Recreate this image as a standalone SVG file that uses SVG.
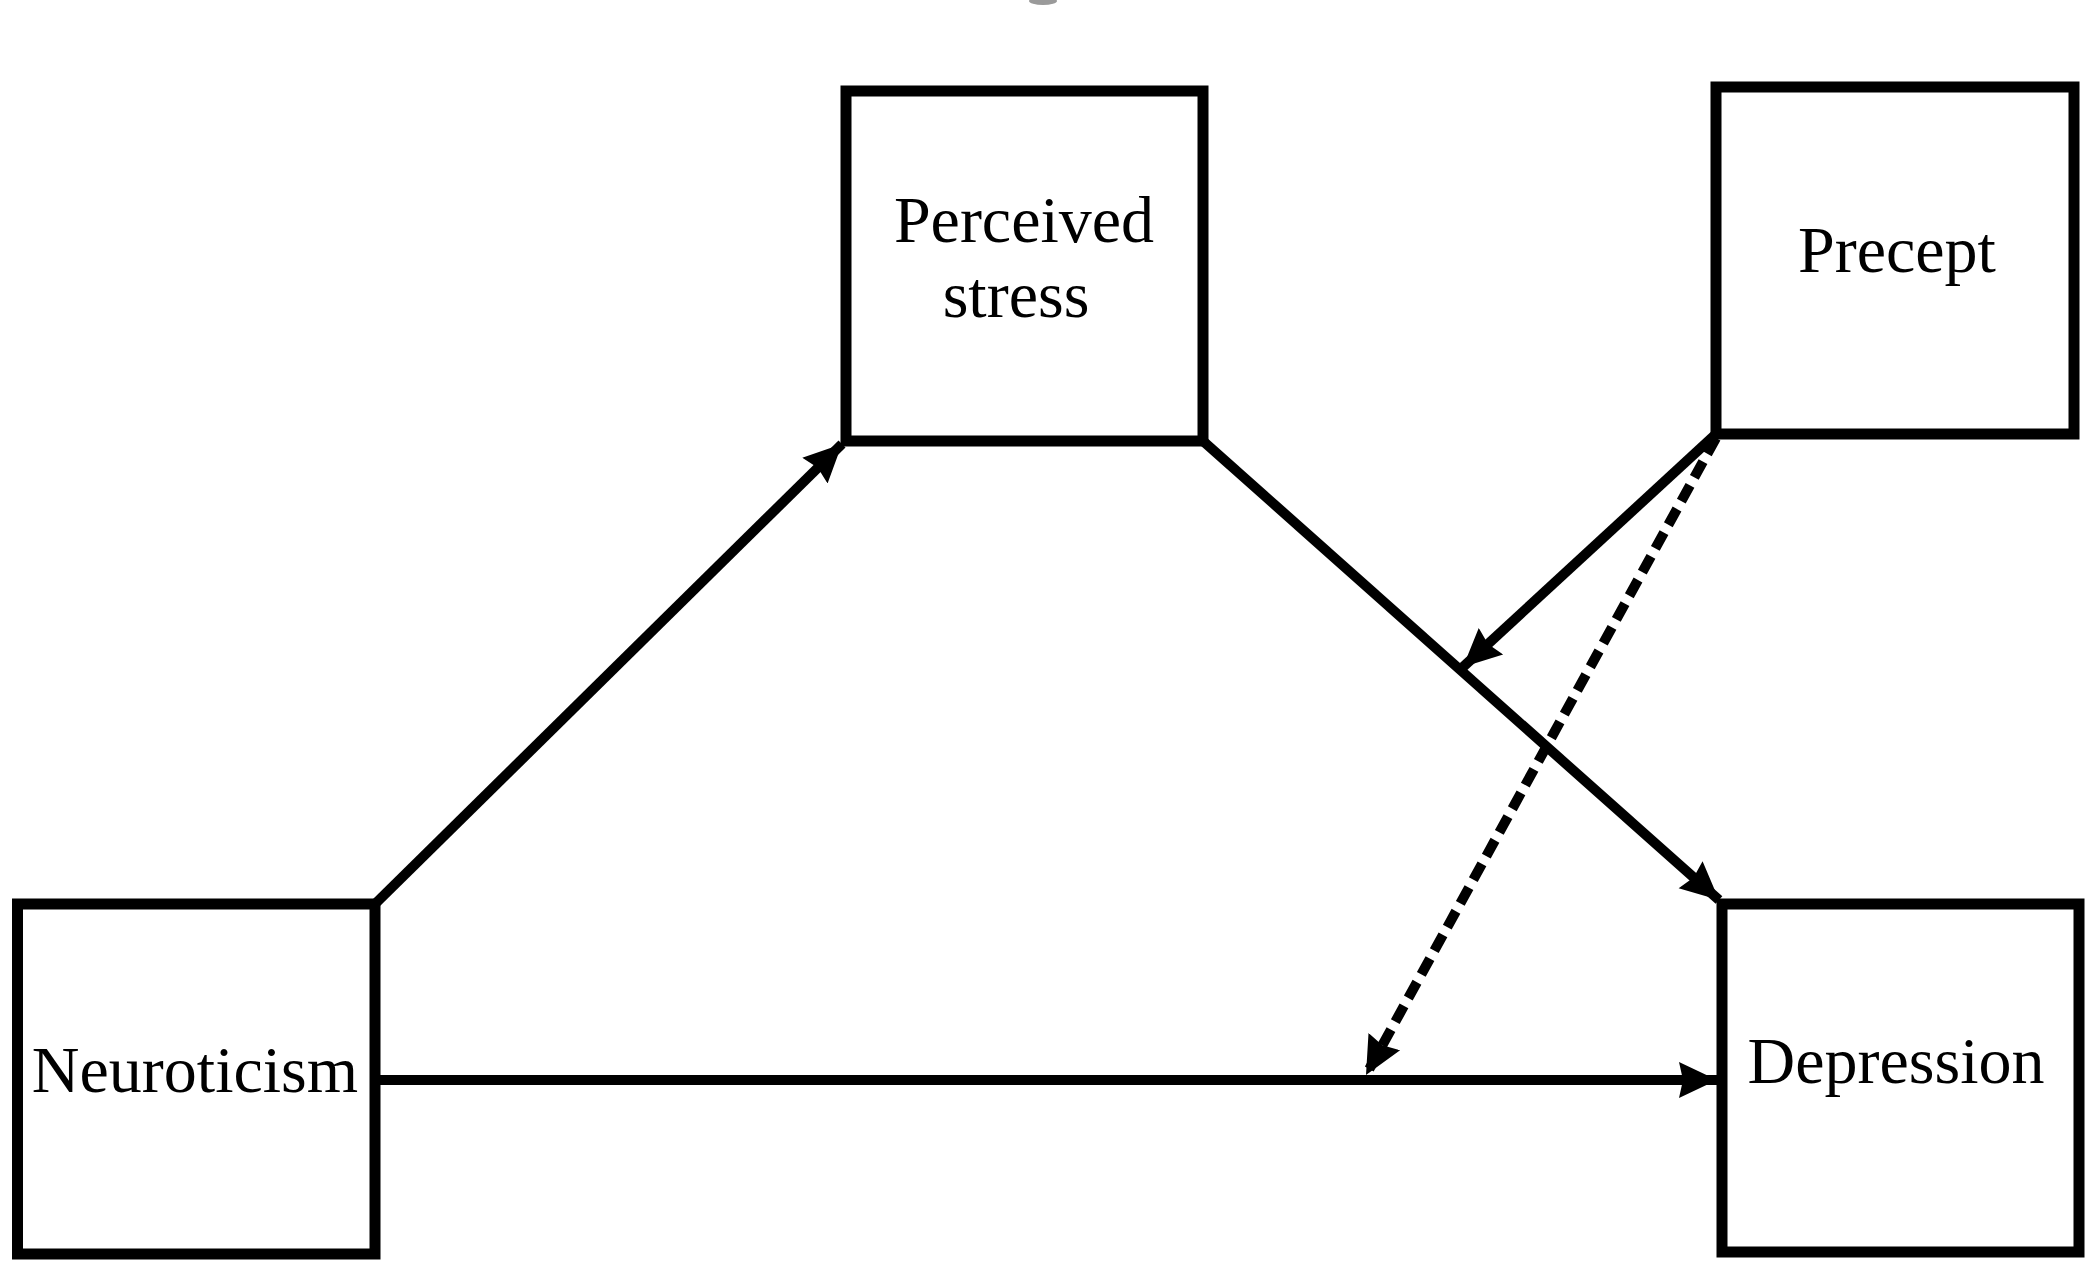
<svg xmlns="http://www.w3.org/2000/svg" width="2100" height="1273" viewBox="0 0 2100 1273">
  <style>
    .box { fill: #ffffff; stroke: #000000; stroke-width: 11; }
    .lbl { font-family: "Liberation Serif", "Times New Roman", serif; font-size: 66px; fill: #000000; text-anchor: middle; }
    .conn { stroke: #000000; stroke-width: 10; fill: none; }
    .dash { stroke-dasharray: 18 9; }
  </style>
  <defs>
    <marker id="arrow" markerUnits="userSpaceOnUse" markerWidth="42" markerHeight="40" refX="38" refY="20" orient="auto">
      <path d="M0,2 L38,20 L0,38 L4,20 z" fill="#000000"/>
    </marker>
  </defs>
  <rect x="0" y="0" width="2100" height="1273" fill="#ffffff"/>
  <ellipse cx="1043" cy="1" rx="14" ry="4" fill="#9a9a9a"/>

  <g id="connectors">
    <line class="conn" x1="375" y1="904" x2="842" y2="444" marker-end="url(#arrow)"/>
    <line class="conn" x1="1203" y1="441" x2="1719" y2="900" marker-end="url(#arrow)"/>
    <line class="conn" x1="380" y1="1080" x2="1717" y2="1080" marker-end="url(#arrow)"/>
    <line class="conn" x1="1716" y1="434" x2="1463" y2="667" marker-end="url(#arrow)"/>
    <line class="conn dash" x1="1716" y1="438" x2="1366" y2="1075" marker-end="url(#arrow)"/>
  </g>

  <g id="node-perceived-stress">
    <rect class="box" x="846" y="91" width="357" height="350"/>
    <text class="lbl" x="1024" y="242">Perceived</text>
    <text class="lbl" x="1016" y="317">stress</text>
  </g>
  <g id="node-precept">
    <rect class="box" x="1716" y="87" width="358" height="347"/>
    <text class="lbl" x="1897" y="272">Precept</text>
  </g>
  <g id="node-neuroticism">
    <rect class="box" x="17.5" y="904" width="357.5" height="350"/>
    <text class="lbl" x="195" y="1092">Neuroticism</text>
  </g>
  <g id="node-depression">
    <rect class="box" x="1722" y="904" width="357" height="348"/>
    <text class="lbl" x="1896" y="1083">Depression</text>
  </g>
</svg>
